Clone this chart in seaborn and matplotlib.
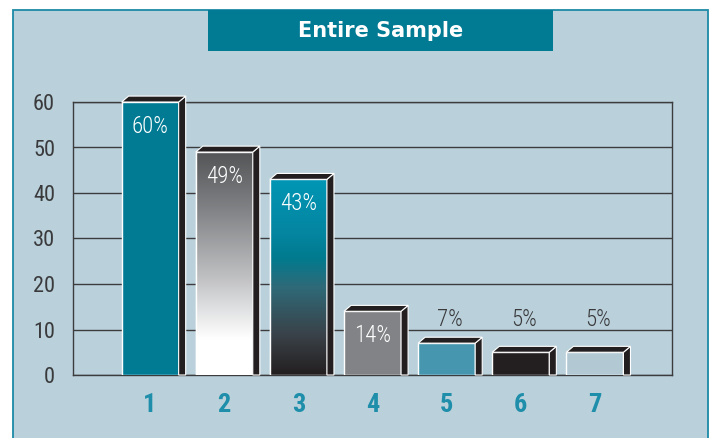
import numpy as np
import seaborn as sns
import matplotlib.pyplot as plt
from matplotlib.patches import Rectangle, Polygon
from matplotlib.colors import LinearSegmentedColormap
from matplotlib import font_manager

categories = ["1", "2", "3", "4", "5", "6", "7"]
values = [60, 49, 43, 14, 7, 5, 5]
labels = ["60%", "49%", "43%", "14%", "7%", "5%", "5%"]
colors = ["#007B93", "#9A9B9D", "#0A7F95", "#818386", "#4596AE", "#231F20", "#B2C9D4"]
inside = [True, True, True, True, False, False, False]

BG = "#BAD1DB"
TEAL = "#007B93"
DARK = "#231F20"

sns.set_theme(style="white")
plt.rcParams["font.stretch"] = "condensed"
names = {f.name for f in font_manager.fontManager.ttflist}
narrow = [n for n in ["Liberation Sans Narrow", "Roboto Condensed", "DejaVu Sans"] if n in names]
plt.rcParams["font.family"] = narrow

W, H = 714, 438
fig = plt.figure(figsize=(W / 100, H / 100), dpi=100)
fig.patch.set_facecolor("white")

# panel and title box
fig.patches.append(Rectangle((13 / W, -0.02), 695 / W, 428 / H + 0.02, transform=fig.transFigure,
                             facecolor=BG, edgecolor="#1C8AA6", linewidth=1.3, zorder=-10))
fig.patches.append(Rectangle((208 / W, (H - 51) / H), 345 / W, 41 / H, transform=fig.transFigure,
                             facecolor=TEAL, edgecolor="none", zorder=-9))
fig.text(381 / W, (H - 31) / H, "Entire Sample", color="white", fontsize=15,
         fontweight="bold", family="DejaVu Sans", fontstretch="normal", ha="center", va="center")

ax = fig.add_axes([73 / W, (H - 375) / H, 599 / W, 273 / H])
ax.set_facecolor("none")

sns.barplot(x=categories, y=values, hue=categories, palette=colors, legend=False, saturation=1,
            width=0.77, edgecolor="white", linewidth=1.0, ax=ax, zorder=3)

ax.set_xlim(-1.04, 7.04)
ax.set_ylim(0, 60)
ax.set_yticks(range(0, 61, 10))
ax.yaxis.grid(True, color="#3C3C3E", linewidth=1.0, zorder=0)
ax.set_axisbelow(True)
for s in ax.spines.values():
    s.set_visible(True)
    s.set_color("#3C3C3E")
    s.set_linewidth(1.0)
ax.set_xlabel("")
ax.set_ylabel("")
ax.tick_params(axis="y", length=0, pad=13, labelsize=16, labelcolor="#3A3A3C")
ax.tick_params(axis="x", length=0, pad=13, labelsize=19, labelcolor="#1E8EAA")
for t in ax.get_xticklabels():
    t.set_fontweight("bold")

# gradients for bars 2 and 3
grads = {
    1: [(0.0, "#FFFFFF"), (0.16, "#FFFFFF"), (0.45, "#BDBEC0"), (0.75, "#808184"), (1.0, "#545557")],
    2: [(0.0, "#231F20"), (0.2, "#3A4148"), (0.45, "#2F6A78"), (0.6, "#007B8F"), (0.72, "#0585A0"), (1.0, "#0096B5")],
}
dx, dy = 0.095, 1.3
patches = list(ax.patches)
for i, p in enumerate(patches):
    x0, w, h = p.get_x(), p.get_width(), p.get_height()
    x1 = x0 + w
    if i in grads:
        cmap = LinearSegmentedColormap.from_list("g%d" % i, grads[i])
        img = ax.imshow(np.linspace(0, 1, 256).reshape(-1, 1), cmap=cmap, origin="lower",
                        extent=[x0, x1, 0, h], aspect="auto", zorder=3.5)
        img.set_clip_path(p)
        ax.add_patch(Rectangle((x0, 0), w, h, facecolor="none", edgecolor="white",
                               linewidth=1.0, zorder=3.6))
    side = Polygon([(x1, 0), (x1 + dx, 0), (x1 + dx, h + dy), (x1, h)], closed=True,
                   facecolor=DARK, edgecolor="white", linewidth=0.8, zorder=3.7, clip_on=False)
    top = Polygon([(x0, h), (x0 + dx, h + dy), (x1 + dx, h + dy), (x1, h)], closed=True,
                  facecolor=DARK, edgecolor="white", linewidth=0.8, zorder=3.7, clip_on=False)
    ax.add_patch(side)
    ax.add_patch(top)
    cx = x0 + w / 2
    if inside[i]:
        ax.text(cx, h - 5.4, labels[i], color="white", fontsize=16.5, fontweight="light",
                ha="center", va="center", zorder=5)
    else:
        ax.text(cx + dx / 2, 12.3, labels[i], color="#3A3A3C", fontsize=16.5, fontweight="light",
                ha="center", va="center", zorder=5)

fig.savefig("out.png", dpi=100)
